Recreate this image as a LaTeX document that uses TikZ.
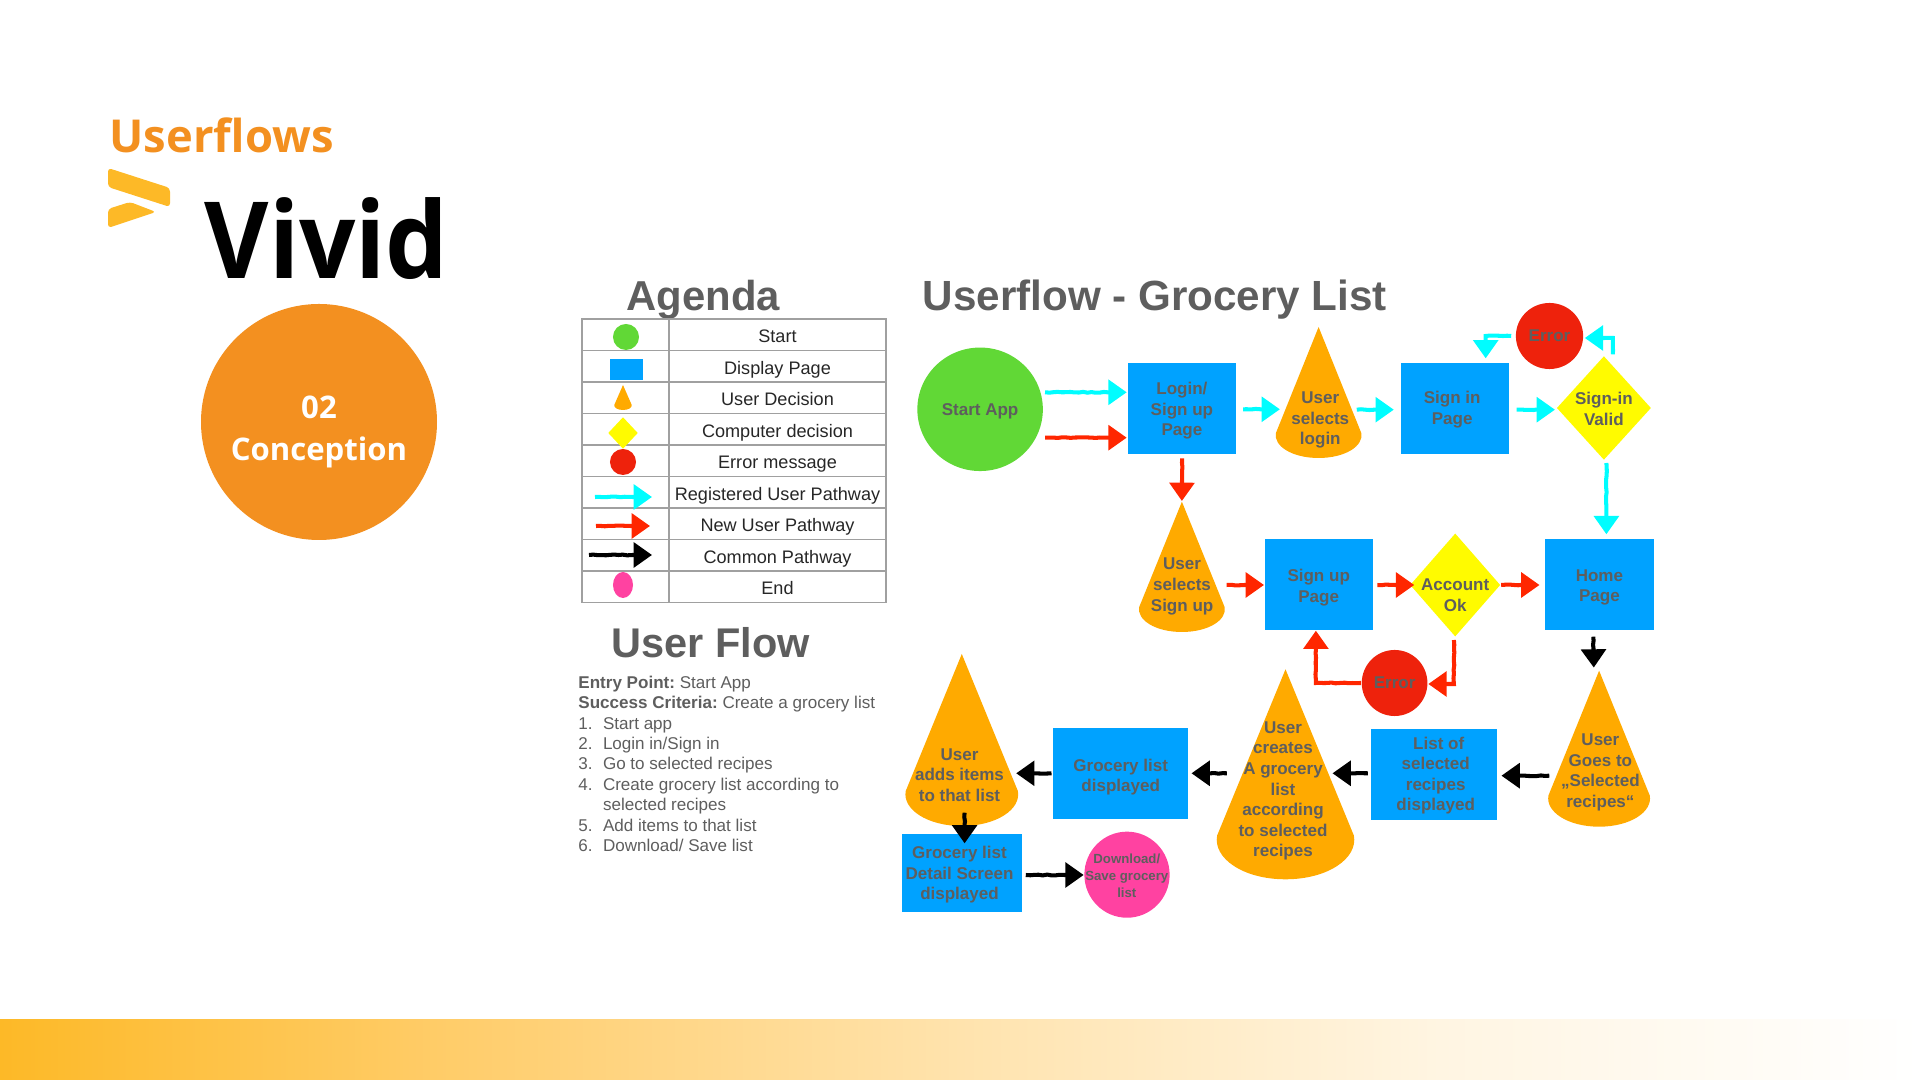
\documentclass[tikz,border=0pt]{standalone}
\usepackage{fontspec}
\usepackage{array}
\usetikzlibrary{shapes.geometric,arrows.meta,decorations.pathmorphing}
\setmainfont{Liberation Sans}
\newfontfamily\slidefont{Open Sans}
\newfontfamily\brandfont[FakeStretch=0.93]{Open Sans}
\newfontfamily\headfont{Liberation Sans Bold}
\definecolor{slideorange}{HTML}{F39020}
\definecolor{logoyellow}{HTML}{FDB927}
\definecolor{labelgray}{HTML}{5E5E5E}
\definecolor{gridgray}{HTML}{A0A0A0}
\definecolor{startgreen}{HTML}{61D836}
\definecolor{pageblue}{HTML}{00A2FF}
\definecolor{coneorange}{HTML}{FFAA00}
\definecolor{compyellow}{HTML}{FFFB00}
\definecolor{errorred}{HTML}{EE220C}
\definecolor{endpink}{HTML}{FF42A1}
\definecolor{regcyan}{HTML}{00FDFF}
\definecolor{newred}{HTML}{FF2600}
\definecolor{fadeone}{HTML}{FFCE6E}
\definecolor{fadetwo}{HTML}{FFE3AD}
\definecolor{fadethree}{HTML}{FFF5E2}
\pgfdeclarehorizontalshading{bandfade}{100bp}{color(0bp)=(logoyellow); color(25bp)=(logoyellow); color(37.5bp)=(fadeone);
  color(50bp)=(fadetwo); color(62.5bp)=(fadethree); color(75bp)=(white); color(100bp)=(white)}
\tikzset{
  every node/.style={inner sep=0pt},
  flowtext/.style={text=labelgray, align=center, font=\headfont\fontsize{4.84}{5.85}\selectfont},
  pagebox/.style 2 args={rectangle, fill=pageblue, minimum width=#1*0.01cm, minimum height=#2*0.01cm},
  conebox/.style 2 args={rectangle, minimum width=(#1)*0.01cm, minimum height=(#2)*0.01cm},
  oval/.style n args={3}{ellipse, fill=#1, minimum width=#2*0.02cm, minimum height=#3*0.02cm, flowtext},
  compbox/.style 2 args={diamond, fill=compyellow, minimum width=#1*0.01cm, minimum height=#2*0.01cm},
  agendacell/.style={rectangle, draw=gridgray, line width=0.3pt, minimum height=31.5*0.01cm},
  pathway/.style={line width=1.15pt, -{Triangle[length=5.2pt,width=7pt]},
    decorate, decoration={random steps,segment length=1.2pt,amplitude=.12pt,post length=5.5pt}},
  regflow/.style={pathway, draw=regcyan},
  newflow/.style={pathway, draw=newred},
  comflow/.style={pathway, draw=black}
}
\newcommand{\conenode}[6]{%
  \fill[coneorange] (#2,#3) -- ({#2+.97*#5},{#4-1.25*#6}) .. controls ({#2+1.03*#5},{#4-.6*#6}) and ({#2+.6*#5},#4) .. (#2,#4)
    .. controls ({#2-.6*#5},#4) and ({#2-1.03*#5},{#4-.6*#6}) .. ({#2-.97*#5},{#4-1.25*#6}) -- cycle;
  \node[conebox={2*#5}{#4-#3}] (#1) at (#2,{(#3+#4)/2}) {};
}
\begin{document}
\begin{tikzpicture}[x=0.01cm,y=-0.01cm]
  \pgfmathsetseed{7}
  \useasboundingbox (0,0) rectangle (1920,1080);
  \shade[shading=bandfade] (0,1020) rectangle (1920,1080);

  % slide heading
  \node[anchor=base west, text=slideorange, font=\slidefont\bfseries\fontsize{12.9}{14}\selectfont] (topic) at (109,153) {Userflows};
  \fill[logoyellow, rounded corners=1pt] (108,168) -- (170,188) -- (170,207) -- (108,187) -- cycle;
  \fill[logoyellow, rounded corners=1pt] (108,209) -- (130,202) -- (156,212) -- (108,228) -- cycle;
  \node[anchor=base west, text=black, font=\brandfont\bfseries\fontsize{30.3}{32}\selectfont] (brand) at (204,279) {Vivid};
  \node[circle, fill=slideorange, minimum size=236*0.01cm] (phase) at (319,422) {};
  \node[text=white, align=center, font=\slidefont\bfseries\fontsize{8.85}{12}\selectfont] (phasetext) at (319,432) {02\\Conception};

  % agenda
  \node[anchor=base west, text=labelgray, font=\headfont\fontsize{11.9}{13}\selectfont] (agendahead) at (626,311) {Agenda};
  \foreach \row/\lbl in {0/Start, 1/Display Page, 2/User Decision, 3/Computer decision, 4/Error message,
      5/Registered User Pathway, 6/New User Pathway, 7/Common Pathway, 8/End} {
    \node[agendacell, minimum width=87*0.01cm] (icon\row) at (625.5,{334.75+31.5*\row}) {};
    \node[agendacell, minimum width=217*0.01cm, text height=5pt, text depth=0.44pt, text=black!85, font=\fontsize{5.15}{6}\selectfont] (entry\row) at (777.5,{334.75+31.5*\row}) {\lbl};
  }
  \node[oval={startgreen}{13}{13}] (iconstart) at (626,337) {};
  \node[pagebox={33}{21}] (iconpage) at (626,370) {};
  \conenode{iconcone}{623}{385}{410}{9}{4}
  \node[compbox={30}{32}] (iconcomp) at (623,433) {};
  \node[oval={errorred}{13}{13}] (iconerror) at (623,462) {};
  \node[oval={endpink}{10}{13}] (iconend) at (623,585) {};
  \coordinate (regfrom) at (595,497);
  \coordinate (regto) at (652,497);
  \coordinate (newfrom) at (596,526);
  \coordinate (newto) at (650,526);
  \coordinate (comfrom) at (589,555);
  \coordinate (comto) at (652,555);
  \draw[regflow] (regfrom) -- (regto);
  \draw[newflow] (newfrom) -- (newto);
  \draw[comflow] (comfrom) -- (comto);

  % user flow steps
  \node[anchor=base west, text=labelgray, font=\headfont\fontsize{11.8}{13}\selectfont] (flowhead) at (611,657.7) {User Flow};
  \node[anchor=north west, text=labelgray, font=\fontsize{4.85}{5.8}\selectfont\frenchspacing] (steps) at (577.7,673.4) {%
    \begin{tabular}{@{}p{24.6\dimexpr0.01cm\relax}@{}l@{}}
    \multicolumn{2}{@{}l@{}}{\textbf{Entry Point:} Start App} \\
    \multicolumn{2}{@{}l@{}}{\textbf{Success Criteria:} Create a grocery list} \\
    1. & Start app \\
    2. & Login in/Sign in \\
    3. & Go to selected recipes \\
    4. & Create grocery list according to \\
       & selected recipes \\
    5. & Add items to that list \\
    6. & Download/ Save list \\
    \end{tabular}
  };

  % flow shapes
  \node[anchor=base west, text=labelgray, font=\headfont\fontsize{12}{13}\selectfont] (flowtitle) at (922,311) {Userflow - Grocery List};
  \node[oval={startgreen}{62.7}{61.7}] (startapp) at (980.1,409.3) {};
  \node[flowtext] (startapptext) at (980.1,411.5) {Start App};
  \node[pagebox={108}{90.7}] (login) at (1181.9,408.4) {};
  \node[flowtext] (logintext) at (1181.9,411) {Login/\\Sign up\\Page};
  \conenode{conelogin}{1318.6}{327}{458}{44}{20}
  \node[flowtext] (conelogintext) at (1320.3,420) {User\\selects\\login};
  \node[pagebox={108.4}{90.7}] (signin) at (1455.2,408.4) {};
  \node[flowtext] (signintext) at (1452.2,409.5) {Sign in\\Page};
  \node[compbox={94.5}{104}] (valid) at (1603.9,408) {};
  \node[flowtext] (validtext) at (1603.9,409) {Sign-in\\Valid};
  \node[oval={errorred}{33.6}{33}] (errortop) at (1549.5,336) {Error};
  \conenode{conesignup}{1181.9}{501.7}{632}{44}{20}
  \node[flowtext] (conesignuptext) at (1182.1,586.5) {User\\selects\\Sign up};
  \node[pagebox={108}{91}] (signup) at (1318.7,584.8) {};
  \node[flowtext] (signuptext) at (1318.7,587.5) {Sign up\\Page};
  \node[compbox={90.5}{103.4}] (account) at (1455.2,585) {};
  \node[flowtext] (accounttext) at (1455.2,595.5) {Account\\Ok};
  \node[pagebox={108.4}{91}] (home) at (1599.4,584.8) {};
  \node[flowtext] (hometext) at (1599.4,587.5) {Home\\Page};
  \node[oval={errorred}{32.8}{33}] (errormid) at (1394.6,683) {Error};
  \conenode{conegoes}{1599.1}{670.7}{826.7}{52.2}{25}
  \node[flowtext] (conegoestext) at (1600.4,772.5) {User\\Goes to\\„Selected\\recipes“};
  \node[pagebox={125.5}{90.7}] (selected) at (1433.9,774.3) {};
  \node[flowtext] (selectedtext) at (1435.7,775.5) {\hspace*{6\dimexpr0.01cm\relax}List of\\selected\\recipes\\displayed};
  \conenode{conecreate}{1285.5}{669.3}{879.3}{70.5}{35}
  \node[flowtext] (conecreatetext) at (1283,791) {User\\creates\\A grocery\\list\\according\\to selected\\recipes};
  \node[pagebox={135.6}{91}] (grocery) at (1120.5,773.2) {};
  \node[flowtext] (grocerytext) at (1120.7,777) {Grocery list\\displayed};
  \conenode{coneadds}{961.8}{654}{826}{57.8}{28}
  \node[flowtext] (coneaddstext) at (959.5,775) {User\\adds items\\to that list};
  \node[pagebox={120}{77.7}] (detail) at (961.5,873.2) {};
  \node[flowtext] (detailtext) at (959.5,874.7) {Grocery list\\Detail Screen\\displayed};
  \node[oval={endpink}{42.6}{43}] (download) at (1127,874.7) {};
  \node[flowtext, font=\headfont\fontsize{3.76}{4.78}\selectfont] (downloadtext) at (1126.8,875.5) {Download/\\Save grocery\\list};

  % registered user pathway
  \draw[regflow] ([shift={(1.5,-17)}]startapp.east) -- ([shift={(-0.5,-16.1)}]login.west);
  \draw[regflow] ([shift={(6.5,0.9)}]login.east) -- ([shift={(6,16.8)}]conelogin.west);
  \draw[regflow] ([shift={(-6.5,17.2)}]conelogin.east) -- ([shift={(-6.5,1.3)}]signin.west);
  \draw[regflow] ([shift={(6.5,1.3)}]signin.east) -- ([shift={(-1,1.7)}]valid.west);
  \draw[regflow] ([shift={(9,-1)}]valid.north) |- ([shift={(1,2)}]errortop.east);
  \draw[regflow] ([shift={(-4,0)}]errortop.west) -| ([shift={(30.5,-4)}]signin.north);
  \draw[regflow] ([shift={(2.5,2.3)}]valid.south) -- ([shift={(7,-4.3)}]home.north);

  % new user pathway
  \draw[newflow] ([shift={(1.5,28.4)}]startapp.east) -- ([shift={(-0.5,29.3)}]login.west);
  \draw[newflow] ([shift={(0.2,4)}]login.south) -- (conesignup.north);
  \draw[newflow] ([shift={(0,18.15)}]conesignup.east) -- ([shift={(0,0.2)}]signup.west);
  \draw[newflow] ([shift={(4,0.2)}]signup.east) -- ([shift={(5,0)}]account.west);
  \draw[newflow] (account.east) -- ([shift={(-5,0.2)}]home.west);
  \draw[newflow] ([shift={(-1.3,2.6)}]account.south) |- ([shift={(0.2,1)}]errormid.east);
  \draw[newflow] (errormid.west) -| ([shift={(-2.8,-0.3)}]signup.south);

  % common pathway
  \draw[comflow] ([shift={(-6.1,5.7)}]home.south) -- ([shift={(-5.3,-2.4)}]conegoes.north);
  \draw[comflow] ([shift={(3.1,27)}]conegoes.west) -- ([shift={(4.1,1.4)}]selected.east);
  \draw[comflow] ([shift={(-2.5,-1)}]selected.west) -- ([shift={(-24.2,-1)}]conecreate.east);
  \draw[comflow] ([shift={(12.6,-1)}]conecreate.west) -- ([shift={(2.5,0.1)}]grocery.east);
  \draw[comflow] ([shift={(-0.5,0.1)}]grocery.west) -- ([shift={(-4.1,33.3)}]coneadds.east);
  \draw[comflow] ([shift={(2.8,-14)}]coneadds.south) -- ([shift={(3.1,9.7)}]detail.north);
  \draw[comflow] ([shift={(3.6,1.8)}]detail.east) -- ([shift={(0,0.3)}]download.west);
\end{tikzpicture}
\end{document}
